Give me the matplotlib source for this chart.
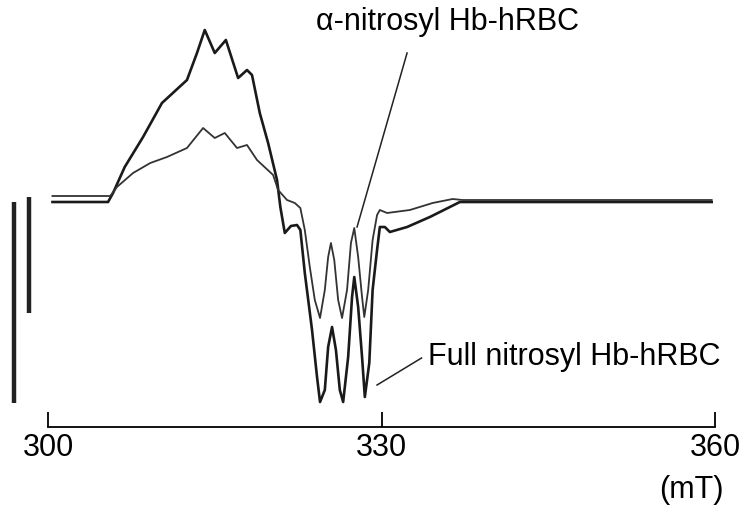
import matplotlib
matplotlib.use("Agg")
import matplotlib.pyplot as plt

plt.rcParams['font.family'] = ['Liberation Sans', 'DejaVu Sans']

# Full nitrosyl Hb-hRBC (field in mT, signal in arbitrary units)
full_field = [300.4, 305.4, 305.85, 306.9, 308.55, 310.25, 312.5, 313.4, 314.1, 315.0,
              316.0, 317.1, 317.9, 318.35, 319.05, 319.8, 320.6, 320.9, 321.3, 321.85,
              322.4, 322.7, 323.1, 323.75, 324.2, 324.47, 324.9, 325.2, 325.55, 325.9,
              326.25, 326.55, 327.0, 327.35, 327.55, 327.9, 328.25, 328.5, 328.9, 329.2,
              329.6, 329.85, 330.3, 330.75, 332.3, 334.35, 336.15, 337.05, 359.7]
full_signal = [0.0, 0.0, 0.9, 3.5, 6.5, 9.9, 12.2, 14.9, 17.2, 14.9,
               16.2, 12.4, 13.2, 12.7, 8.9, 5.9, 2.2, -0.5, -3.1, -2.4,
               -2.3, -2.8, -7.1, -12.8, -17.5, -20.0, -18.8, -14.5, -12.5, -14.8,
               -18.8, -20.0, -15.5, -9.5, -7.5, -10.5, -15.5, -19.5, -16.1, -8.8,
               -4.8, -2.5, -2.5, -3.0, -2.5, -1.5, -0.5, 0.0, 0.0]

# alpha-nitrosyl Hb-hRBC
alpha_field = [300.4, 305.6, 306.2, 307.65, 309.2, 310.7, 312.5, 313.95, 315.0, 315.9,
               317.0, 317.9, 318.8, 320.25, 320.7, 321.5, 322.2, 322.7, 323.1, 323.55,
               324.0, 324.47, 324.9, 325.2, 325.45, 325.75, 326.1, 326.45, 326.9, 327.25,
               327.55, 327.9, 328.25, 328.45, 328.8, 329.2, 329.6, 329.85, 330.5, 332.55,
               334.6, 336.4, 337.3, 359.7]
alpha_signal = [0.6, 0.6, 1.5, 2.9, 3.9, 4.5, 5.4, 7.4, 6.4, 6.9,
                5.4, 5.7, 4.2, 2.7, 1.2, 0.2, -0.1, -0.6, -2.8, -6.5,
                -9.8, -11.6, -8.8, -5.5, -4.1, -5.8, -9.8, -11.6, -8.8, -4.1,
                -2.6, -5.5, -9.5, -11.5, -8.8, -3.8, -1.3, -0.8, -1.1, -0.8,
                -0.1, 0.3, 0.2, 0.2]

# scale bars (x position, bottom, top)
bar_x = [296.95, 298.3]
bar_bottom = [-20.1, -11.1]
bar_top = [0.0, 0.5]

ticks = [300, 330, 360]

fig = plt.figure(figsize=(7.4, 5.09), dpi=100)
ax = fig.add_axes([0, 0, 1, 1])
ax.set_xlim(295.68, 362.25)
ax.set_ylim(-30.7, 20.2)

ax.plot(full_field, full_signal, color='#1a1a1a', lw=1.9)
ax.plot(alpha_field, alpha_signal, color='#333333', lw=1.3)

for x, b, t in zip(bar_x, bar_bottom, bar_top):
    ax.plot([x, x], [b, t], color='#222222', lw=3.2, solid_capstyle='butt')

# bottom axis with upward ticks
for s in ['top', 'left', 'right']:
    ax.spines[s].set_visible(False)
ax.spines['bottom'].set_position(('data', -22.5))
ax.spines['bottom'].set_bounds(300, 360)
ax.spines['bottom'].set_linewidth(1.3)
ax.set_xticks(ticks)
ax.set_xticklabels([str(t) for t in ticks])
ax.tick_params(axis='x', direction='in', length=11, width=1.3, labelsize=22, pad=4)
ax.set_yticks([])
ax.patch.set_visible(False)

ax.text(357.9, -28.8, '(mT)', fontsize=22, ha='center', va='center')

ax.text(335.9, 18.0, 'α-nitrosyl Hb-hRBC', fontsize=22, ha='center', va='center')
ax.plot([332.3, 327.8], [14.9, -2.5], color='#222222', lw=1.1)

ax.text(334.2, -15.5, 'Full nitrosyl Hb-hRBC', fontsize=22, ha='left', va='center')
ax.plot([329.6, 333.6], [-18.3, -15.6], color='#222222', lw=1.1)

fig.savefig('out.png', dpi=100)
